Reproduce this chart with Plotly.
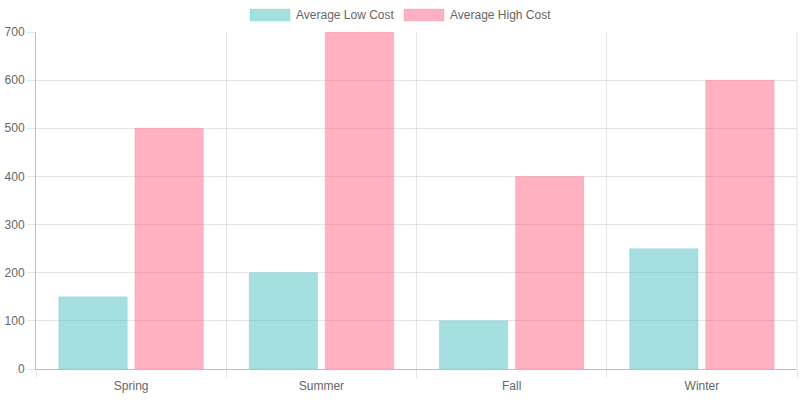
import plotly.graph_objects as go

seasons = ["Spring", "Summer", "Fall", "Winter"]
low_cost = [150, 200, 100, 250]
high_cost = [500, 700, 400, 600]
series_names = ["Average Low Cost", "Average High Cost"]
fill_colors = ["rgba(75,192,192,0.5)", "rgba(255,99,132,0.5)"]
line_colors = ["rgba(75,192,192,0.2)", "rgba(255,99,132,0.2)"]

fig = go.Figure()
for name, vals, fc, lc in zip(series_names, [low_cost, high_cost], fill_colors, line_colors):
    fig.add_trace(go.Bar(x=seasons, y=vals, name=name,
                         marker=dict(color=fc, line=dict(color=lc, width=1)),
                         hoverinfo="x+y+name"))

font = dict(family="Liberation Sans, Arial, Helvetica, sans-serif", size=12, color="#666")

L, R, T, B = 36, 3, 32, 31
W, H = 800, 400
pw, ph = W - L - R, H - T - B

def px_x(p):
    return (p - L) / pw

def px_y(p):
    return (H - B - p) / ph

# custom legend (Chart.js style boxes)
legend_items = [(250, 294), (404, 448)]
for (bx, tx), name, fc, lc in zip(legend_items, series_names, fill_colors, line_colors):
    fig.add_shape(type="rect", xref="paper", yref="paper",
                  x0=px_x(bx), x1=px_x(bx + 40), y0=px_y(21), y1=px_y(9),
                  fillcolor=fc, line=dict(color=lc, width=1))
    fig.add_annotation(xref="paper", yref="paper", x=px_x(tx), y=px_y(15),
                       text=name, showarrow=False, xanchor="left", yanchor="middle",
                       font=font)

fig.update_layout(
    width=W, height=H,
    margin=dict(l=L, r=R, t=T, b=B, pad=0),
    paper_bgcolor="white", plot_bgcolor="white",
    barmode="group", bargap=0.2, bargroupgap=0.1,
    showlegend=False,
    font=font,
)
fig.update_xaxes(
    type="category", tickson="boundaries", ticks="outside", ticklen=8,
    tickcolor="rgba(0,0,0,0.1)", showgrid=True, gridcolor="rgba(0,0,0,0.1)",
    showline=True, linecolor="rgba(0,0,0,0.25)", linewidth=1,
    tickfont=font, mirror=False, ticklabelstandoff=6,
)
fig.update_yaxes(
    range=[0, 700], dtick=100, ticks="outside", ticklen=8,
    tickcolor="rgba(0,0,0,0.1)", showgrid=True, gridcolor="rgba(0,0,0,0.1)",
    showline=True, linecolor="rgba(0,0,0,0.25)", linewidth=1,
    zeroline=False, tickfont=font,
)
# right edge grid line as in reference
fig.add_shape(type="line", xref="paper", yref="paper", x0=1, x1=1, y0=0, y1=1,
              line=dict(color="rgba(0,0,0,0.1)", width=1), layer="below")

fig.write_html("out.html")
